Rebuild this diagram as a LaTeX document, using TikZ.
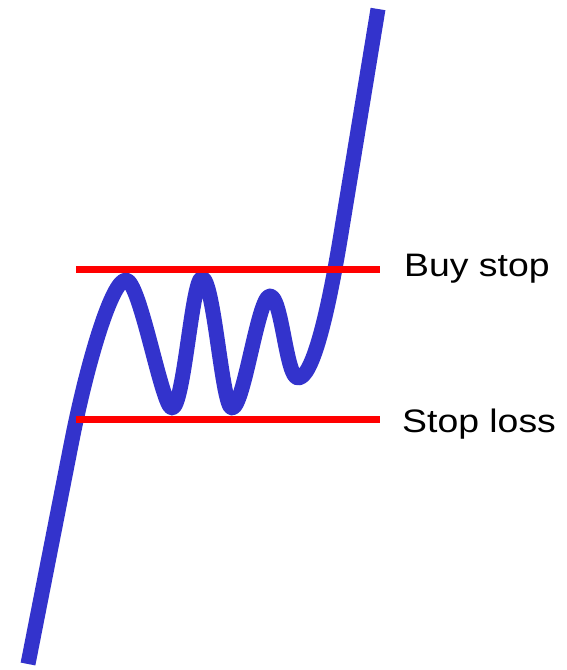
\documentclass[tikz,border=0pt]{standalone}
\usepackage{fontspec}
\setmainfont{Liberation Sans}
\newfontfamily\tagfont[FakeStretch=1.15]{Liberation Sans}
\definecolor{pricecol}{HTML}{3333CC}
\begin{document}
\begin{tikzpicture}[x=1pt, y=-1pt,
  price/.style={line width=15pt, pricecol, line join=round},
  level/.style={line width=7pt, red},
  tag/.style={anchor=base west, inner sep=0pt, font=\tagfont\fontsize{32.5}{39}\selectfont}]
  \useasboundingbox (0,0) rectangle (566,670);
  % price path
  \draw[price] (28,664) -- (72,440)
    .. controls (88,360) and (112,280) .. (126,280)
    .. controls (140,280) and (162,408) .. (172,408)
    .. controls (184,408) and (192,278) .. (202,278)
    .. controls (214,278) and (222,408) .. (232,408)
    .. controls (244,408) and (258,296) .. (270,296)
    .. controls (282,296) and (286,378) .. (298,378)
    .. controls (312,378) and (327,318) .. (340,240)
    -- (378,9);
  % range levels
  \coordinate (buyL) at (76,269.5);
  \coordinate (buyR) at (380,269.5);
  \coordinate (lossL) at (76,419.5);
  \coordinate (lossR) at (380,419.5);
  \draw[level] (buyL) -- (buyR);
  \draw[level] (lossL) -- (lossR);
  \node[tag] (buy) at (404,276.5) {Buy stop};
  \node[tag] (loss) at (402,432.5) {Stop loss};
\end{tikzpicture}
\end{document}
